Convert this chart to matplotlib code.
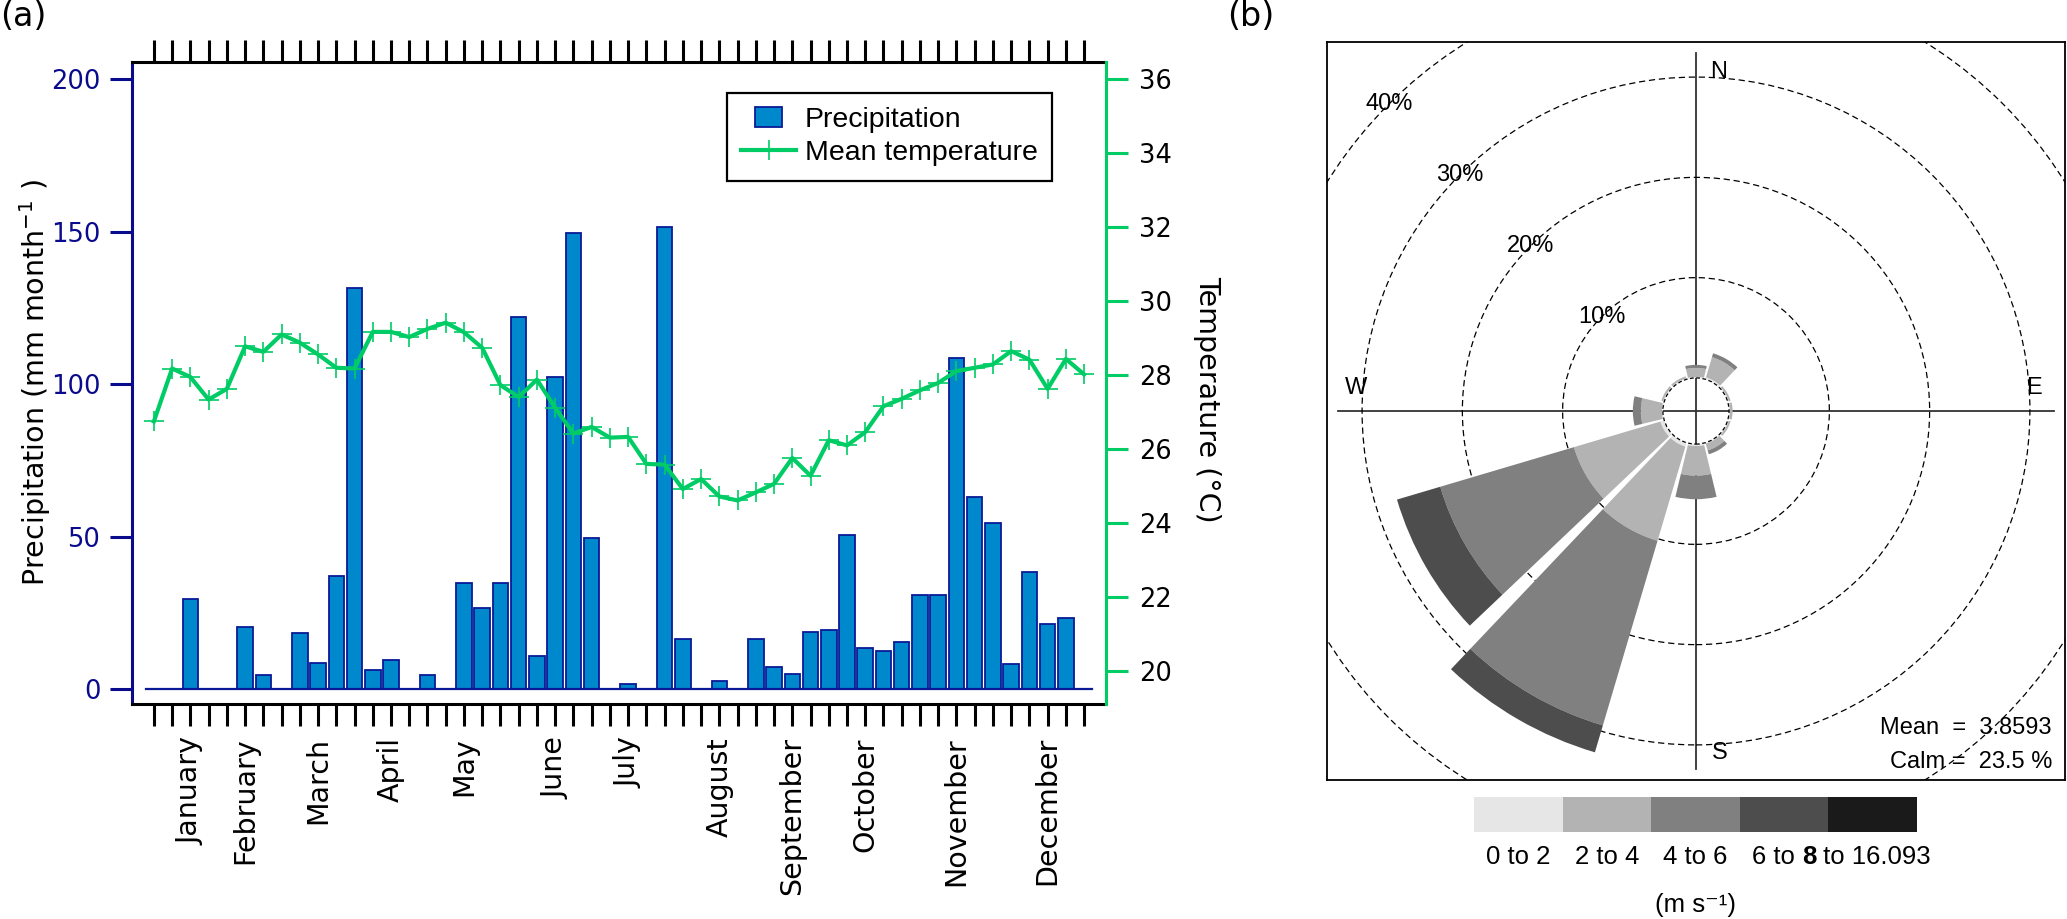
import matplotlib
matplotlib.use("Agg")
import matplotlib.pyplot as plt
import numpy as np
from matplotlib.legend_handler import HandlerPatch
from matplotlib.patches import Circle, Patch, Rectangle, Wedge

# ---- panel (a): weekly precipitation and mean temperature ----
weeks = np.arange(1, 53)
precip = [0, 0, 29.5, 0, 0, 20.5, 4.7, 0, 18.5, 8.5,
          37, 131.5, 6.5, 9.5, 0, 4.7, 0, 35, 26.5, 35,
          122, 11, 102.5, 149.5, 49.5, 0, 1.8, 0, 151.5, 16.5,
          0, 2.7, 0, 16.5, 7.4, 5, 18.7, 19.6, 50.7, 13.6,
          12.7, 15.4, 30.8, 30.8, 108.5, 63, 54.5, 8.2, 38.6, 21.5,
          23.5, 0]
temp = [26.75, 28.18, 27.95, 27.34, 27.63, 28.78, 28.63, 29.10, 28.88, 28.56,
        28.20, 28.18, 29.17, 29.17, 29.03, 29.25, 29.42, 29.16, 28.74, 27.73,
        27.41, 27.88, 27.12, 26.42, 26.60, 26.31, 26.33, 25.60, 25.58, 24.92,
        25.19, 24.72, 24.61, 24.83, 25.06, 25.76, 25.28, 26.24, 26.10, 26.46,
        27.16, 27.36, 27.59, 27.79, 28.11, 28.20, 28.29, 28.65, 28.42, 27.63,
        28.44, 28.02]
month_names = ["January", "February", "March", "April", "May", "June", "July",
               "August", "September", "October", "November", "December"]
month_weeks = [3, 6, 10, 14, 18, 23, 27, 32, 36, 40, 45, 50]
precip_ticks = [0, 50, 100, 150, 200]
temp_ticks = [20, 22, 24, 26, 28, 30, 32, 34, 36]

# ---- panel (b): wind rose (% of time per direction and speed class) ----
wind_dirs = [0, 30, 60, 90, 120, 150, 180, 210, 240, 270, 300, 330]
speed_bins = ["0 to 2", "2 to 4", "4 to 6", "6 to 8", "8 to 16.093"]
freq_0_2 = [0.1, 0.2, 0.1, 0.1, 0.1, 0.1, 0.2, 0.4, 0.4, 0.1, 0.1, 0.1]
freq_2_4 = [0.9, 2.1, 0.2, 0.25, 0.2, 0.7, 2.95, 9.8, 9.0, 2.1, 0.2, 0.2]
freq_4_6 = [0.3, 0.4, 0, 0, 0, 0.4, 2.35, 19.2, 13.9, 0.8, 0, 0]
freq_6_8 = [0, 0, 0, 0, 0, 0, 0, 2.8, 4.5, 0, 0, 0]
freq_8_16 = [0, 0, 0, 0, 0, 0, 0, 0, 0, 0, 0, 0]
ring_pcts = [10, 20, 30, 40]
mean_speed = 3.8593
calm_pct = 23.5

BAR_FACE = "#0088CC"
BAR_EDGE = "#0A1A96"
NAVY = "#0A0A8C"
GREEN = "#00CC66"
SPEED_COLORS = ["#E6E6E6", "#B3B3B3", "#808080", "#4D4D4D", "#1A1A1A"]
FS = 20.5
TICK_FS = 18.5
TICK_LEN = 15.8
TICK_W = 2.2

plt.rcParams["font.family"] = "DejaVu Sans"

fig = plt.figure(figsize=(20.67, 9.19), dpi=100)

# ================= panel (a) =================
ax = fig.add_axes([0.06386, 0.23395, 0.47122, 0.69859])
ax2 = ax.twinx()

bar_w = 0.85
ax.bar(weeks, precip, width=bar_w, color=BAR_FACE, edgecolor=BAR_EDGE,
       linewidth=1.3, zorder=2)
ax.plot([weeks[0] - bar_w / 2, weeks[-1] + bar_w / 2], [0, 0],
        color=BAR_EDGE, lw=1.6, zorder=3)
line, = ax2.plot(weeks, temp, color=GREEN, lw=3.0, marker="+", ms=15,
                 mew=1.2, zorder=4)

ax.set_xlim(-0.2, 53.2)
ax.set_ylim(-4.8, 205.6)
ax2.set_ylim(19.106, 36.47)

ax.set_yticks(precip_ticks)
ax2.set_yticks(temp_ticks)
ax.set_xticks(weeks)
xlabels = [""] * len(weeks)
for name, wk in zip(month_names, month_weeks):
    xlabels[wk - 1] = name
ax.set_xticklabels(xlabels, rotation=90, ha="center", va="top")

ax.tick_params(axis="x", direction="out", top=True, bottom=True,
               length=TICK_LEN, width=TICK_W, labelsize=FS, pad=8)
ax.tick_params(axis="y", colors=NAVY, length=TICK_LEN, width=TICK_W,
               labelsize=TICK_FS, pad=7)
ax2.tick_params(axis="y", color=GREEN, labelcolor="black", length=TICK_LEN,
                width=TICK_W, labelsize=TICK_FS, pad=8)

for s in ("top", "bottom"):
    ax.spines[s].set_linewidth(TICK_W)
    ax2.spines[s].set_visible(False)
ax.spines["left"].set_color(NAVY)
ax.spines["left"].set_linewidth(TICK_W)
ax.spines["right"].set_visible(False)
ax2.spines["left"].set_visible(False)
ax2.spines["right"].set_color(GREEN)
ax2.spines["right"].set_linewidth(TICK_W)

ax.set_ylabel("Precipitation (mm month$^{-1}$ )", fontsize=FS, va="center")
ax.yaxis.set_label_coords(-0.1, 0.5)
ax2.set_ylabel("Temperature (\u00b0C)", fontsize=FS, rotation=270,
               va="center", rotation_mode="anchor")
ax2.yaxis.set_label_coords(1.1037, 0.475)


def _small_rect(legend, orig_handle, xdescent, ydescent, width, height, fontsize):
    return Rectangle((width * 0.25 - xdescent, -ydescent), width * 0.5, height)


bar_proxy = Patch(facecolor=BAR_FACE, edgecolor=BAR_EDGE, linewidth=1.3)
leg = ax2.legend([bar_proxy, line], ["Precipitation", "Mean temperature"],
                 loc="upper left", bbox_to_anchor=(727 / 2067, 1 - 93 / 919),
                 bbox_transform=fig.transFigure, borderaxespad=0,
                 prop={"family": "Liberation Sans", "size": FS},
                 fancybox=False, edgecolor="black", framealpha=1,
                 handlelength=1.93, handletextpad=0.3, borderpad=0.5,
                 labelspacing=0.25,
                 handler_map={Patch: HandlerPatch(patch_func=_small_rect)})
leg.get_frame().set_linewidth(1.6)

fig.text(0.0, 1.0, "(a)", ha="left", va="top", fontsize=24)
fig.text(1227 / 2067, 1.0, "(b)", ha="left", va="top", fontsize=24)

# ================= panel (b) =================
RF = ["Liberation Sans", "DejaVu Sans"]
OFFSET = 3.3      # calm circle radius, in % units
HALF = 13.5       # half angular width of a petal, deg
LIM = 36.8
AXIS_R = 35.7

axw = fig.add_axes([0.64199, 0.15125, 0.35704, 0.80305])
axw.set_xlim(-LIM, LIM)
axw.set_ylim(-LIM, LIM)
axw.set_xticks([])
axw.set_yticks([])
for s in axw.spines.values():
    s.set_linewidth(1.3)

axw.plot([-AXIS_R, AXIS_R], [0, 0], color="#333333", lw=1.3, zorder=1)
axw.plot([0, 0], [-AXIS_R, AXIS_R], color="#333333", lw=1.3, zorder=1)

for p in ring_pcts:
    axw.add_patch(Circle((0, 0), OFFSET + p, fill=False, ec="black", lw=0.9,
                         ls=(0, (5, 3)), zorder=1))
    r = OFFSET + p
    axw.text(-r * np.sin(np.pi / 4), r * np.cos(np.pi / 4), f"{p}%",
             ha="center", va="center", fontsize=17, family=RF, zorder=5)

bands = [freq_0_2, freq_2_4, freq_4_6, freq_6_8, freq_8_16]
for k, d in enumerate(wind_dirs):
    inner = OFFSET
    for band, col in zip(bands, SPEED_COLORS):
        f = band[k]
        if f <= 0:
            continue
        axw.add_patch(Wedge((0, 0), inner + f, 90 - d - HALF, 90 - d + HALF,
                            width=f, fc=col, ec="none", zorder=2))
        inner += f

axw.add_patch(Circle((0, 0), OFFSET, fill=False, ec="black", lw=0.9,
                     ls=(0, (3, 2)), zorder=3))

axw.text(2.3, 33.8, "N", ha="center", va="center", fontsize=17, family=RF)
axw.text(2.4, -34.1, "S", ha="center", va="center", fontsize=17, family=RF)
axw.text(-33.9, 2.3, "W", ha="center", va="center", fontsize=17, family=RF)
axw.text(33.7, 2.3, "E", ha="center", va="center", fontsize=17, family=RF)

axw.text(35.5, -31.6, f"Mean  =  {mean_speed}", ha="right", va="center",
         fontsize=17, family=RF)
axw.text(35.5, -35.0, f"Calm =  {calm_pct} %", ha="right", va="center",
         fontsize=17, family=RF)

# speed class key
KEY_FS = 18.5
axl = fig.add_axes([0.71325, 0.09434, 0.21408, 0.03874])
axl.bar(range(len(speed_bins)), [1] * len(speed_bins), width=1,
        color=SPEED_COLORS)
axl.set_xlim(-0.5, len(speed_bins) - 0.5)
axl.set_ylim(0, 1)
axl.axis("off")
for i, lab in enumerate(speed_bins[:3]):
    axl.text(i, -0.7, lab, ha="center", va="center", fontsize=KEY_FS, family=RF)

# the last two class labels share their "8" (drawn bold, as in the original)
lo, hi = speed_bins[3].rsplit(" ", 1)
rest = speed_bins[4].split(" ", 1)[1]
x8 = 3.2
axl.text(x8, -0.7, lo + " ", ha="right", va="center", fontsize=KEY_FS, family=RF)
t8 = axl.text(x8, -0.7, hi, ha="left", va="center", fontsize=KEY_FS,
              family=RF, fontweight="bold")
fig.canvas.draw()
bb = t8.get_window_extent(fig.canvas.get_renderer())
x_after = axl.transData.inverted().transform((bb.x1, bb.y0))[0]
axl.text(x_after, -0.7, " " + rest, ha="left", va="center", fontsize=KEY_FS,
         family=RF)
axl.text(2, -2.04, "(m s\u207b\u00b9)", ha="center", va="center",
         fontsize=KEY_FS, family=RF)

fig.savefig("out.png", dpi=100)
